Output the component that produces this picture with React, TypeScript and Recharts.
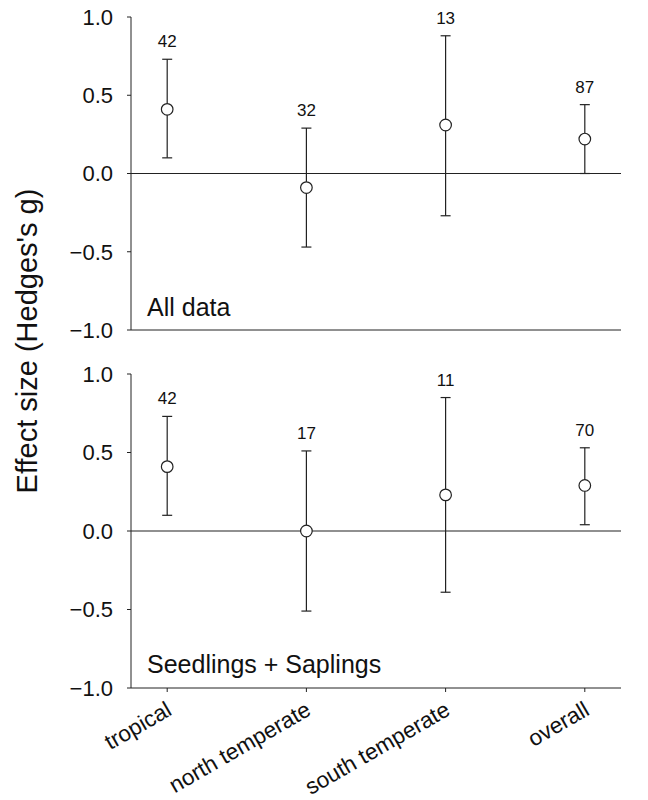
import React from "react";
import { ComposedChart, Scatter, ErrorBar, XAxis, YAxis, ReferenceLine } from "recharts";

const categories = ["tropical", "north temperate", "south temperate", "overall"];
const positions = [1, 2, 3, 4];
const yTicks = [-1, -0.5, 0, 0.5, 1];

// All data
const allMean = [0.41, -0.09, 0.31, 0.22];
const allLow = [0.1, -0.47, -0.27, 0.0];
const allHigh = [0.73, 0.29, 0.88, 0.44];
const allN = [42, 32, 13, 87];

// Seedlings + Saplings
const seedMean = [0.41, 0.0, 0.23, 0.29];
const seedLow = [0.1, -0.51, -0.39, 0.04];
const seedHigh = [0.73, 0.51, 0.85, 0.53];
const seedN = [42, 17, 11, 70];

const FONT = "'Liberation Sans', Arial, sans-serif";
const INK = "#222";

const fmtY = (v: number) => (v < 0 ? "\u2212" + Math.abs(v).toFixed(1) : v.toFixed(1));

const CountLabel = (props: any) => {
  const { cx, cy, payload } = props;
  return (
    <text x={cx} y={cy - 12} textAnchor="middle" fontSize={17} fontFamily={FONT} fill="#111">
      {payload.n}
    </text>
  );
};

const Dot = (props: any) => {
  const { cx, cy } = props;
  return <circle cx={cx} cy={cy} r={5.8} fill="#fff" stroke={INK} strokeWidth={1.2} />;
};

const XTick = (props: any) => {
  const { x, y, payload } = props;
  const tx = x + 6;
  const ty = y + 20;
  return (
    <text
      x={tx}
      y={ty}
      transform={`rotate(-30 ${tx} ${ty})`}
      textAnchor="end"
      fontSize={22.5}
      fontFamily={FONT}
      fill="#111"
    >
      {categories[payload.value - 1]}
    </text>
  );
};

type PanelProps = {
  mean: number[];
  low: number[];
  high: number[];
  n: number[];
  title: string;
  showLabels: boolean;
  height: number;
  top: number;
  xAxisHeight: number;
};

const Panel = ({ mean, low, high, n, title, showLabels, height, top, xAxisHeight }: PanelProps) => {
  const points = positions.map((x, i) => ({
    x,
    y: mean[i],
    err: [mean[i] - low[i], high[i] - mean[i]],
  }));
  const counts = positions.map((x, i) => ({ x, y: high[i], n: n[i] }));
  return (
    <ComposedChart
      width={648}
      height={height}
      margin={{ top, right: 27, bottom: 0, left: 71 }}
    >
      <XAxis
        type="number"
        dataKey="x"
        domain={[0.74, 4.26]}
        ticks={positions}
        allowDataOverflow
        height={xAxisHeight}
        tickSize={4}
        stroke={INK}
        tick={showLabels ? <XTick /> : false}
        interval={0}
      />
      <YAxis
        type="number"
        dataKey="y"
        domain={[-1, 1]}
        ticks={yTicks}
        interval={0}
        width={60}
        tickSize={4}
        tickMargin={14}
        stroke={INK}
        tickFormatter={fmtY}
        tick={{ fontSize: 22, fontFamily: FONT, fill: "#111" }}
      />
      <ReferenceLine y={0} stroke={INK} strokeWidth={1.2} />
      <Scatter data={points} isAnimationActive={false} shape={<Dot />}>
        <ErrorBar dataKey="err" direction="y" width={5} stroke={INK} strokeWidth={1.2} />
      </Scatter>
      <Scatter data={counts} isAnimationActive={false} shape={<CountLabel />} />
      <text x={147} y={top + 299} fontSize={25} fontFamily={FONT} fill="#111">
        {title}
      </text>
    </ComposedChart>
  );
};

export default function App() {
  return (
    <div style={{ position: "absolute", left: 0, top: 0, width: 648, height: 800, background: "#fff" }}>
      <div style={{ position: "absolute", left: 0, top: 0 }}>
        <Panel
          mean={allMean}
          low={allLow}
          high={allHigh}
          n={allN}
          title="All data"
          showLabels={false}
          height={345}
          top={17}
          xAxisHeight={15}
        />
      </div>
      <div style={{ position: "absolute", left: 0, top: 360 }}>
        <Panel
          mean={seedMean}
          low={seedLow}
          high={seedHigh}
          n={seedN}
          title="Seedlings + Saplings"
          showLabels={true}
          height={440}
          top={14}
          xAxisHeight={112}
        />
      </div>
      <svg width={60} height={800} style={{ position: "absolute", left: 0, top: 0 }}>
        <text
          x={37}
          y={341}
          transform="rotate(-90 37 341)"
          textAnchor="middle"
          fontSize={29}
          fontFamily={FONT}
          fill="#111"
        >
          Effect size (Hedges's g)
        </text>
      </svg>
    </div>
  );
}
